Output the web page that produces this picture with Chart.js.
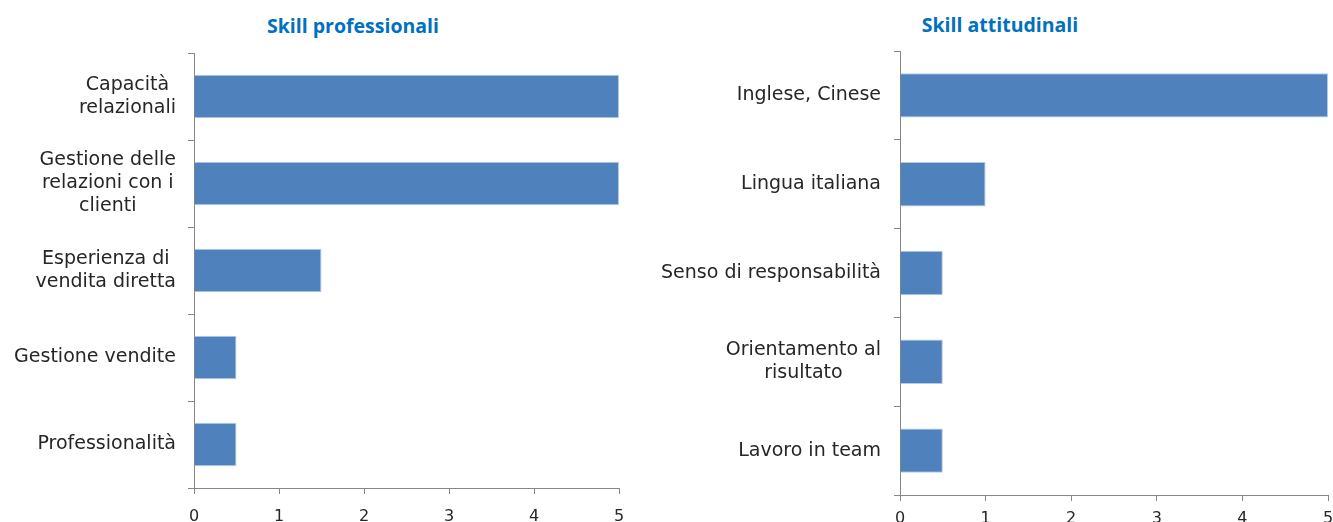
<!DOCTYPE html>
<html><head><meta charset="utf-8">
<script src="https://cdn.jsdelivr.net/npm/chart.js@4.4.0/dist/chart.umd.min.js"></script>
<style>
html,body{margin:0;padding:0;width:1333px;height:522px;overflow:hidden;background:#fff;}
canvas{position:absolute;top:0;}
#c1{left:0;}
#c2{left:650px;}
.t{position:absolute;font-family:'Open Sans',sans-serif;font-weight:700;font-size:19.5px;line-height:26px;color:#0070C0;white-space:nowrap;transform:translateX(-50%);}
</style></head><body>
<div class="t" id="t1" style="left:353px;top:13px">Skill professionali</div>
<div class="t" id="t2" style="left:1000px;top:12px">Skill attitudinali</div>
<canvas id="c1" width="650" height="522"></canvas>
<canvas id="c2" width="683" height="522"></canvas>
<script>
const profTitle = "Skill professionali";
const profCategories = [
  ["Capacità", "relazionali"],
  ["Gestione delle", "relazioni con i", "clienti"],
  ["Esperienza di", "vendita diretta"],
  ["Gestione vendite"],
  ["Professionalità"]
];
const profValues = [5, 5, 1.5, 0.5, 0.5];

const attTitle = "Skill attitudinali";
const attCategories = [
  ["Inglese, Cinese"],
  ["Lingua italiana"],
  ["Senso di responsabilità"],
  ["Orientamento al", "risultato"],
  ["Lavoro in team"]
];
const attValues = [5, 1, 0.5, 0.5, 0.5];

const xTickLabels = ["0", "1", "2", "3", "4", "5"];

const LABEL_FONT = "19px 'DejaVu Sans'";
const AXIS_COLOR = "#868686";
const TEXT_COLOR = "#262626";

function catLabelPlugin(cats, gap, lineHeight) {
  return {
    id: 'catLabels',
    afterDraw(chart) {
      const s = chart.scales.y;
      const ctx = chart.ctx;
      ctx.save();
      ctx.font = LABEL_FONT;
      ctx.fillStyle = TEXT_COLOR;
      ctx.textAlign = 'center';
      ctx.textBaseline = 'middle';
      cats.forEach((lines, i) => {
        const y = s.getPixelForTick(i);
        const w = Math.max(...lines.map(l => ctx.measureText(l).width));
        const cx = s.right - gap - w / 2;
        lines.forEach((l, j) => {
          ctx.fillText(l, cx, y + (j - (lines.length - 1) / 2) * lineHeight);
        });
      });
      ctx.restore();
    }
  };
}

function makeChart(id, cats, vals, cfg) {
  return new Chart(document.getElementById(id), {
    type: 'bar',
    data: {
      labels: cats.map(c => c.join(' ')),
      datasets: [{
        data: vals,
        backgroundColor: '#4F81BD',
        borderColor: '#B4CAE4',
        borderWidth: 1,
        barPercentage: 0.5,
        categoryPercentage: 1.0
      }]
    },
    options: {
      indexAxis: 'y',
      responsive: false,
      animation: false,
      layout: { padding: { top: cfg.top, right: cfg.right, left: 0, bottom: 0 } },
      plugins: { legend: { display: false }, tooltip: { enabled: false }, title: { display: false } },
      scales: {
        x: {
          type: 'linear',
          min: 0, max: 5,
          afterFit(scale) { scale.height = cfg.xHeight; scale.paddingLeft = 0; scale.paddingRight = 0; },
          afterBuildTicks(scale) { scale.ticks = xTickLabels.map(v => ({ value: Number(v) })); },
          ticks: {
            stepSize: 1,
            padding: cfg.xPad,
            color: TEXT_COLOR,
            font: { family: 'DejaVu Sans', size: 16 },
            callback: (v, i) => xTickLabels[i]
          },
          grid: { display: true, drawOnChartArea: false, drawTicks: true, tickLength: 6, color: AXIS_COLOR, lineWidth: 1 },
          border: { display: true, color: AXIS_COLOR, width: 1 }
        },
        y: {
          type: 'category',
          offset: true,
          afterFit(scale) { scale.width = cfg.yWidth; scale.paddingTop = 0; scale.paddingBottom = 0; },
          ticks: { display: false },
          grid: { display: true, offset: true, drawOnChartArea: false, drawTicks: true, tickLength: 6, color: AXIS_COLOR, lineWidth: 1 },
          border: { display: true, color: AXIS_COLOR, width: 1 }
        }
      }
    },
    plugins: [catLabelPlugin(cats, cfg.gap, 23)]
  });
}

makeChart('c1', profCategories, profValues, { top: 53, right: 31, xHeight: 34, yWidth: 194, gap: 18, xPad: 13 });
makeChart('c2', attCategories, attValues, { top: 51, right: 5, xHeight: 27, yWidth: 250, gap: 19, xPad: 8 });
</script>
</body></html>
